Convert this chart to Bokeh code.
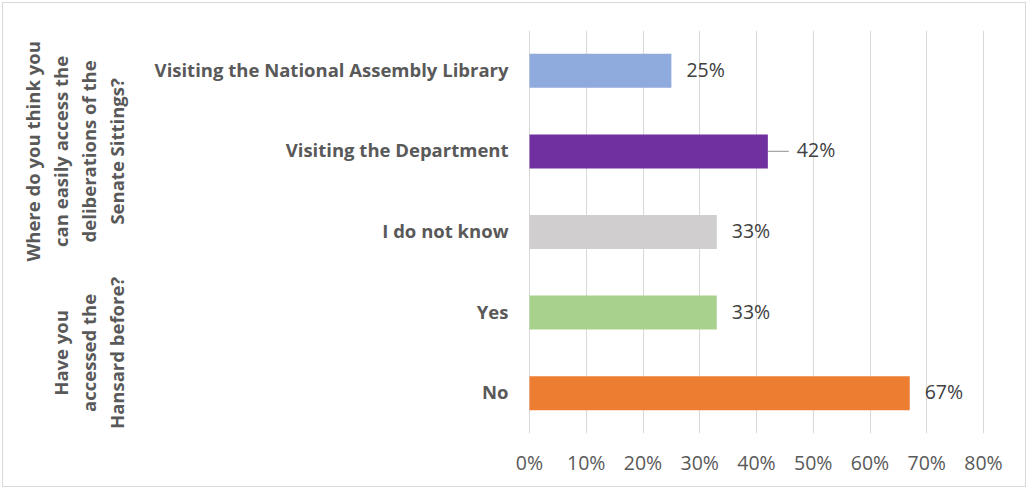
import numpy as np
from bokeh.plotting import figure
from bokeh.models import Range1d, FixedTicker, NumeralTickFormatter, ColumnDataSource
from bokeh.embed import file_html
from bokeh.resources import INLINE
from bokeh.core.properties import value

# ---- data ----
categories = ["Visiting the National Assembly Library", "Visiting the Department",
              "I do not know", "Yes", "No"]
values = [0.25, 0.42, 0.33, 0.33, 0.67]
value_labels = ["25%", "42%", "33%", "33%", "67%"]
colors = ["#8FAADC", "#7030A0", "#D0CECE", "#A9D18E", "#ED7D31"]
group_lines = [["Where do you think you", "can easily access the", "deliberations of the", "Senate Sittings?"],
               ["Have you", "accessed the", "Hansard before?"]]
group_members = [[0, 1, 2], [3, 4]]
tick_values = [0.0, 0.1, 0.2, 0.3, 0.4, 0.5, 0.6, 0.7, 0.8]

# ---- layout constants ----
PAD = 3                 # outer frame inset
W, H = 1030 - 2 * PAD, 491 - 2 * PAD
X0_PX = 529.0 - PAD     # pixel of 0% inside canvas
PX_PER_UNIT = 567.5     # pixels per 100%
TOP, BOTTOM = 30 - PAD, 58 - PAD
FONT = "Open Sans"

def px_to_x(px):
    return (px - PAD - X0_PX) / PX_PER_UNIT

n = len(categories)
ys = [n - i - 0.5 for i in range(n)]

p = figure(width=W, height=H, output_backend="svg", toolbar_location=None,
           x_range=Range1d(-X0_PX / PX_PER_UNIT, (W - X0_PX) / PX_PER_UNIT), y_range=Range1d(0, n),
           y_axis_location=None, min_border_left=0, min_border_right=0,
           min_border_top=TOP, min_border_bottom=BOTTOM,
           outline_line_color=None, background_fill_color="white",
           border_fill_color="white")
p.styles = {"border": "1px solid #D9D9D9", "margin": "2px"}

# grid
p.ygrid.visible = False
p.xgrid.ticker = FixedTicker(ticks=tick_values)
p.xgrid.bounds = (tick_values[0], tick_values[-1])
p.xgrid.grid_line_color = "#D9D9D9"
p.xgrid.grid_line_width = 1

# x axis
ax = p.xaxis[0]
ax.ticker = FixedTicker(ticks=tick_values)
ax.formatter = NumeralTickFormatter(format="0%")
ax.bounds = (tick_values[0], tick_values[-1])
ax.axis_line_color = None
ax.major_tick_line_color = None
ax.minor_tick_line_color = None
ax.major_label_standoff = 9
ax.major_label_text_font = FONT
ax.major_label_text_font_size = "19.5px"
ax.major_label_text_color = "#595959"

# bars
src = ColumnDataSource(dict(y=ys, v=values, c=colors, lab=value_labels, cat=categories,
                            off=[29 if i == 1 else 15 for i in range(n)]))
p.hbar(y="y", left=0, right="v", height=34 / (403 / n), fill_color="c", line_color=None, source=src)

# leader line for the moved label
p.segment(x0=[values[1]], y0=[ys[1]], x1=[values[1] + 21 / PX_PER_UNIT], y1=[ys[1]],
          line_color="#A6A6A6", line_width=1.2)

# data labels
p.text(x="v", y="y", text="lab", x_offset="off", y_offset=-1.5, source=src, text_align="left",
       text_baseline="middle", text_font=value(FONT), text_font_size="19.5px",
       text_color="#404040")

# category labels
p.text(x=0, y="y", text="cat", x_offset=-21, y_offset=-1.5, source=src, text_align="right",
       text_baseline="middle", text_font=value(FONT), text_font_size="18.5px",
       text_font_style="bold", text_color="#595959")

# group labels (rotated, one glyph per line, lines centred)
LAST_LINE_PX, LINE_STEP = 116, 28
gx, gy, gt = [], [], []
for lines, members in zip(group_lines, group_members):
    yc = float(np.mean([ys[i] for i in members]))
    for k, line in enumerate(lines):
        gx.append(px_to_x(LAST_LINE_PX - LINE_STEP * (len(lines) - 1 - k)))
        gy.append(yc)
        gt.append(line)
p.text(x=gx, y=gy, text=gt, angle=np.pi / 2, text_align="center",
       text_baseline="middle", text_font=value(FONT), text_font_size="18.5px",
       text_font_style="bold", text_color="#595959")

open("out.html", "w").write(file_html(p, INLINE))
